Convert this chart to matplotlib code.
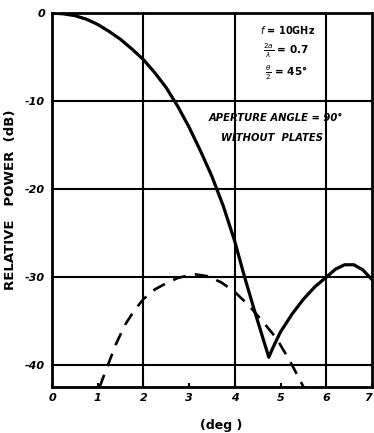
import matplotlib
matplotlib.use("Agg")
import matplotlib.pyplot as plt

# Data
solid_x = [0.0, 0.25, 0.5, 0.75, 1.0, 1.25, 1.5, 1.75, 2.0, 2.25, 2.5, 2.75, 3.0, 3.25, 3.5, 3.75, 4.0, 4.2, 4.45, 4.74,
           4.85, 5.0, 5.25, 5.5, 5.75, 6.0, 6.2, 6.4, 6.6, 6.8, 7.0]
solid_y = [0.0, -0.1, -0.3, -0.7, -1.3, -2.1, -3.0, -4.1, -5.3, -6.8, -8.5, -10.6, -13.0, -15.7, -18.6, -22.0, -26.0, -29.8, -34.2, -39.1,
           -37.8, -36.2, -34.2, -32.5, -31.1, -30.0, -29.1, -28.6, -28.6, -29.2, -30.3]

dash_x = [1.04, 1.2, 1.4, 1.6, 1.8, 2.0, 2.25, 2.5, 2.75, 3.0, 3.15, 3.4, 3.7, 4.0, 4.3, 4.6, 4.9, 5.2, 5.5]
dash_y = [-42.5, -40.3, -37.6, -35.4, -33.8, -32.5, -31.4, -30.7, -30.1, -29.8, -29.7, -29.9, -30.6, -31.7, -33.2, -35.0, -36.9, -39.5, -42.5]

xticks = [0, 1, 2, 3, 4, 5, 6, 7]
yticks = [0, -10, -20, -30, -40]
ytick_labels = ["0", "-10", "-20", "-30", "-40"]
v_grid = [2, 4, 6]
h_grid = [-10, -20, -30, -40]

fig = plt.figure(figsize=(3.74, 4.33), dpi=100)
ax = fig.add_axes([0.139, 0.106, 0.856, 0.864])
ax.set_xlim(0, 6.98)
ax.set_ylim(-42.5, 0)

for gx in v_grid:
    ax.axvline(gx, color="black", lw=1.5, zorder=1)
for gy in h_grid:
    ax.axhline(gy, color="black", lw=1.5, zorder=1)

ax.plot(solid_x, solid_y, color="black", lw=2.3, solid_joinstyle="round", zorder=3)
ax.plot(dash_x, dash_y, color="black", lw=1.9, dashes=(5, 3.5), zorder=3)

for s in ax.spines.values():
    s.set_linewidth(2.0)

ax.set_xticks(xticks)
ax.set_xticklabels([str(t) for t in xticks], fontsize=8, fontweight="bold", fontstyle="italic")
for lbl in ax.get_xticklabels()[-1:]:
    lbl.set_horizontalalignment("right")
ax.set_yticks(yticks)
ax.set_yticklabels(ytick_labels, fontsize=8, fontweight="bold", fontstyle="italic")
ax.tick_params(axis="x", direction="in", length=3, width=1.5, pad=4)
ax.tick_params(axis="y", length=0, pad=5)

ax.set_ylabel("RELATIVE   POWER  (dB)", fontsize=9.5, fontweight="bold", labelpad=6)
ax.set_xlabel("(deg )", fontsize=9, fontweight="bold")
ax.xaxis.set_label_coords(0.53, -0.085)

ax.text(5.15, -1.9, "$f$ = 10GHz", fontsize=7, fontweight="bold", ha="center", va="center")
ax.text(5.12, -4.3, r"$\frac{2a}{\lambda}$ = 0.7", fontsize=7.5, fontweight="bold", ha="center", va="center")
ax.text(5.12, -6.8, r"$\frac{\theta}{2}$ = 45°", fontsize=7.5, fontweight="bold", ha="center", va="center")

ax.text(4.9, -11.9, "APERTURE ANGLE = 90°", fontsize=7.2, fontweight="bold", fontstyle="italic",
        ha="center", va="center")
ax.text(4.8, -14.2, "WITHOUT  PLATES", fontsize=7.2, fontweight="bold", fontstyle="italic",
        ha="center", va="center")

fig.savefig("out.png", dpi=100)
